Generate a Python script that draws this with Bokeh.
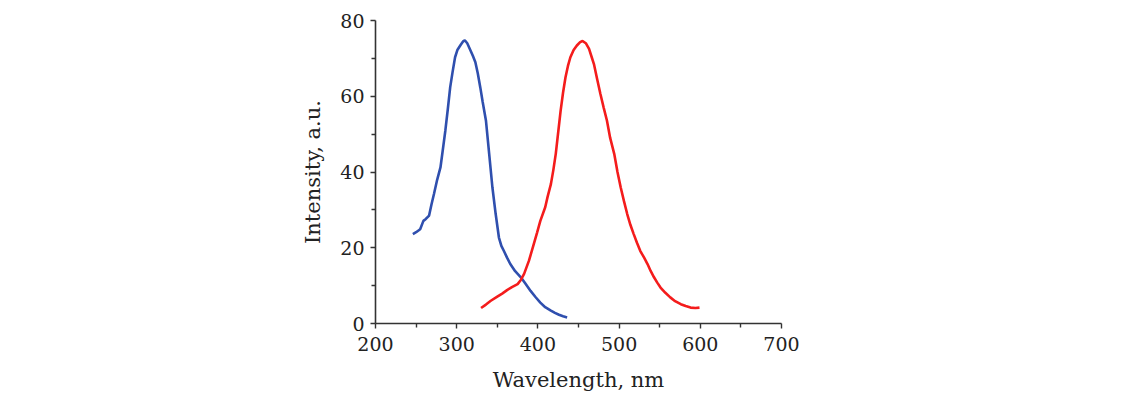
from bokeh.plotting import figure
from bokeh.models import Range1d, FixedTicker
from bokeh.embed import file_html
from bokeh.resources import INLINE

# Excitation (blue) spectrum
blue_x = [246, 250, 255, 259, 262, 266, 269, 272, 276, 280, 283, 286, 289, 292, 295, 298,
          301, 305, 308, 310, 313, 317, 320, 323, 326, 329, 332, 336, 340, 344, 348, 352,
          355, 358, 362, 366, 372, 379, 385, 391, 397, 403, 409, 416, 421, 426, 431, 436]
blue_y = [23.6, 24.1, 24.9, 27.1, 27.6, 28.5, 31.5, 34.2, 38.0, 41.2, 46.0, 50.9, 56.5, 62.4, 66.5, 70.3,
          72.3, 73.6, 74.5, 74.8, 74.0, 72.1, 70.6, 69.0, 66.0, 62.4, 58.5, 53.6, 44.8, 35.9, 28.9, 22.7,
          20.5, 19.2, 17.4, 15.7, 13.8, 12.2, 10.4, 8.6, 7.0, 5.5, 4.3, 3.4, 2.8, 2.3, 1.9, 1.6]

# Emission (red) spectrum
red_x = [330, 336, 342, 350, 356, 362, 368, 375, 379, 383, 389, 395, 399, 403, 409, 412,
         416, 419, 422, 425, 428, 431, 434, 437, 440, 444, 448, 452, 455, 459, 463, 466,
         469, 473, 477, 481, 485, 489, 494, 498, 502, 506, 510, 514, 518, 522, 526, 531,
         535, 539, 543, 547, 551, 557, 563, 569, 576, 582, 588, 594, 599]
red_y = [4.1, 5.0, 6.0, 7.1, 7.9, 8.8, 9.6, 10.4, 11.5, 13.1, 16.6, 21.0, 24.0, 27.1, 30.7, 33.5,
         36.8, 40.5, 44.8, 50.5, 56.2, 61.0, 65.0, 68.0, 70.3, 72.2, 73.4, 74.3, 74.6, 74.0, 72.5, 70.5,
         68.5, 64.5, 60.6, 57.0, 53.6, 49.0, 44.8, 40.0, 35.9, 32.3, 28.9, 26.0, 23.6, 21.3, 19.2, 17.3,
         15.7, 13.8, 12.2, 10.8, 9.5, 8.1, 6.9, 5.9, 5.1, 4.6, 4.2, 4.1, 4.2]

x_ticks = [200, 300, 400, 500, 600, 700]
x_minor = [250, 350, 450, 550, 650]
y_ticks = [0, 20, 40, 60, 80]
y_minor = [10, 30, 50, 70]

FONT = "DejaVu Serif"

p = figure(width=1148, height=395, output_backend="svg", toolbar_location=None,
           x_range=Range1d(200, 700), y_range=Range1d(0, 80),
           min_border_left=375, min_border_right=367, min_border_top=20, min_border_bottom=72)
p.outline_line_color = None
p.xgrid.visible = False
p.ygrid.visible = False

p.line(blue_x, blue_y, line_color="#2f4fae", line_width=2.6)
p.line(red_x, red_y, line_color="#f41c1c", line_width=2.6)

for ax in (p.xaxis[0], p.yaxis[0]):
    ax.axis_line_color = "#333333"
    ax.axis_line_width = 1.6
    ax.major_tick_line_color = "#333333"
    ax.minor_tick_line_color = "#333333"
    ax.major_tick_line_width = 1.4
    ax.minor_tick_line_width = 1.4
    ax.major_tick_in = 0
    ax.major_tick_out = 5
    ax.minor_tick_in = 0
    ax.minor_tick_out = 4
    ax.major_label_text_font = FONT
    ax.major_label_text_font_size = "19px"
    ax.major_label_text_color = "#222222"
    ax.axis_label_text_font = FONT
    ax.axis_label_text_font_size = "21px"
    ax.axis_label_text_font_style = "normal"
    ax.axis_label_text_color = "#222222"

p.xaxis.ticker = FixedTicker(ticks=x_ticks, minor_ticks=x_minor)
p.yaxis.ticker = FixedTicker(ticks=y_ticks, minor_ticks=y_minor)
p.xaxis.axis_label = "Wavelength, nm"
p.yaxis.axis_label = "Intensity, a.u."
p.xaxis.major_label_standoff = 8
p.yaxis.major_label_standoff = 6
p.xaxis.axis_label_standoff = 14
p.yaxis.axis_label_standoff = 12

open("out.html", "w").write(file_html(p, INLINE))
